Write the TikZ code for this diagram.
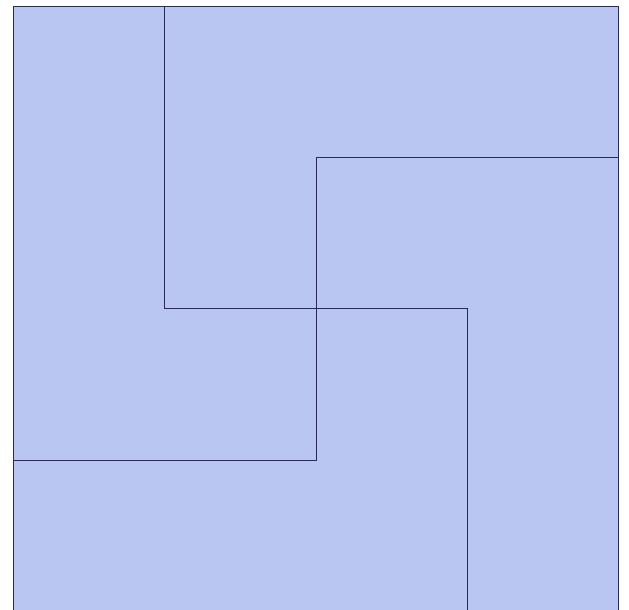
\documentclass[tikz,border=0pt]{standalone}
\definecolor{fillblue}{RGB}{186,198,242}
\definecolor{edgeblue}{RGB}{40,44,84}
\begin{document}
\begin{tikzpicture}[x=1pt,y=-1pt,edge/.style={draw=edgeblue,line width=0.9pt}]
\useasboundingbox (0,0) rectangle (629,610);
\begin{scope}
\clip (0,0) rectangle (629,610);
\fill[fillblue] (13,6) rectangle (618,612);
\draw[edge] (13,612) -- (13,6) -- (618,6) -- (618,612);
\coordinate (a1) at (164,6);
\coordinate (a2) at (164,308);
\coordinate (a3) at (467,308);
\coordinate (a4) at (467,612);
\draw[edge] (a1) -- (a2) -- (a3) -- (a4);
\coordinate (b1) at (618,157);
\coordinate (b2) at (316,157);
\coordinate (b3) at (316,460);
\coordinate (b4) at (13,460);
\draw[edge] (b1) -- (b2) -- (b3) -- (b4);
\end{scope}
\end{tikzpicture}
\end{document}
